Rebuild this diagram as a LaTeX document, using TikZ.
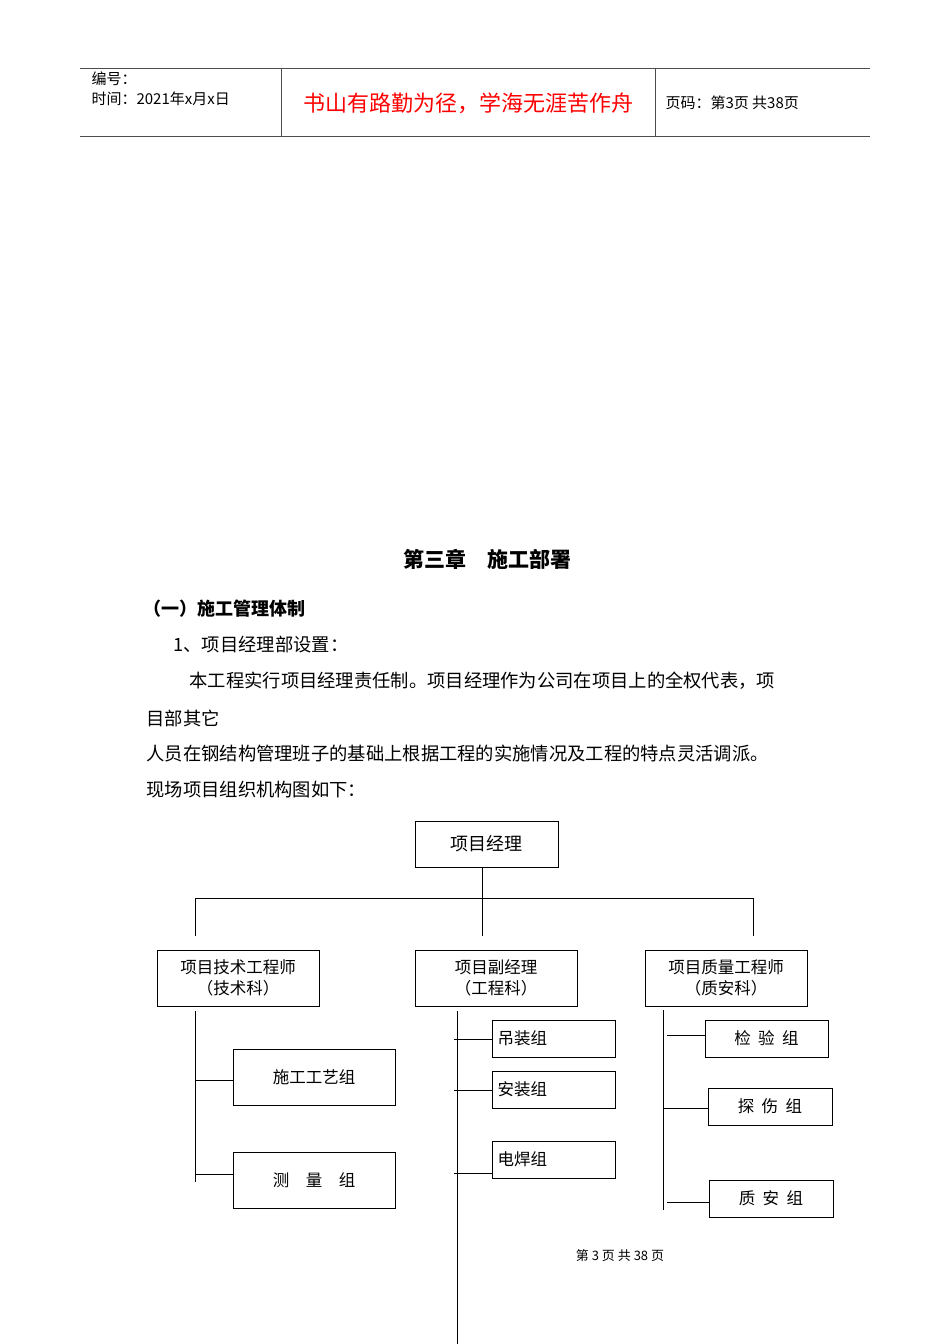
\documentclass[tikz,border=0pt]{standalone}
\usepackage{fontspec}
\setmainfont{Noto Sans CJK SC}
\begin{document}
\begin{tikzpicture}[x=1pt,y=-1pt,
 bx/.style={draw,line width=0.9pt,inner sep=0pt},
 ln/.style={line width=0.9pt},
 body/.style={anchor=west,font=\fontsize{18.3}{18}\selectfont},
 bt/.style={font=\fontsize{16.5}{21}\selectfont,align=center}]
\useasboundingbox[fill=white] (0,0) rectangle (950,1344);
% header
\draw[line width=0.8pt,gray!60!black] (80,68)--(870,68) (80,136)--(870,136) (281,68)--(281,136) (655,68)--(655,136);
\node[anchor=west,font=\fontsize{15}{15}\selectfont] (h1) at (88,79) {编号：};
\node[anchor=west,font=\fontsize{15}{15}\selectfont] (h2) at (88,99) {时间：2021年x月x日};
\node[text=red,font=\fontsize{22}{22}\selectfont] (h3) at (468,103) {书山有路勤为径，学海无涯苦作舟};
\node[anchor=west,font=\fontsize{15}{15}\selectfont] (h4) at (662,103) {页码：第3页\ 共38页};
% text
\node[font=\bfseries\fontsize{21}{21}\selectfont] (t) at (487,559) {第三章\quad 施工部署};
\node[anchor=west,font=\bfseries\fontsize{18}{18}\selectfont] (s) at (140,609) {（一）施工管理体制};
\node[body] (p1) at (170,645) {1、项目经理部设置：};
\node[body] (p2) at (186,681) {本工程实行项目经理责任制。项目经理作为公司在项目上的全权代表，项};
\node[body] (p3) at (143,718) {目部其它};
\node[body] (p4) at (143,754) {人员在钢结构管理班子的基础上根据工程的实施情况及工程的特点灵活调派。};
\node[body] (p5) at (143,790) {现场项目组织机构图如下：};
% chart
\node[bx,minimum width=143,minimum height=46,font=\fontsize{18}{18}\selectfont] (pm) at (486.5,844) {项目经理};
\node[bx,bt,minimum width=162,minimum height=56] (a) at (238,978) {项目技术工程师\\（技术科）};
\node[bx,bt,minimum width=162,minimum height=56] (b) at (496,978) {项目副经理\\（工程科）};
\node[bx,bt,minimum width=162,minimum height=56] (c) at (726,978) {项目质量工程师\\（质安科）};
\draw[ln] (482,867)--(482,936) (195,898)--(753,898) (195,898)--(195,936) (753,898)--(753,936);
\coordinate (a0) at (195,1011); \coordinate (a1) at (195,1182);
\coordinate (b0) at (457,1011); \coordinate (b1) at (457,1344);
\coordinate (c0) at (663,1010); \coordinate (c1) at (663,1210);
\draw[ln] (a0)--(a1) (b0)--(b1) (c0)--(c1);
\node[bx,bt,minimum width=162,minimum height=56] (a1b) at (314,1077) {施工工艺组};
\node[bx,bt,minimum width=162,minimum height=56] (a2b) at (314,1180) {测\quad 量\quad 组};
\draw[ln] (195,1080)--(a1b.west|-0,1080) (195,1174)--(a2b.west|-0,1174);
\node[bx,bt,minimum width=123,minimum height=37,text width=112,align=left] (b1b) at (553.5,1038.5) {吊装组};
\node[bx,bt,minimum width=123,minimum height=37,text width=112,align=left] (b2b) at (553.5,1089.5) {安装组};
\node[bx,bt,minimum width=123,minimum height=37,text width=112,align=left] (b3b) at (553.5,1159.5) {电焊组};
\draw[ln] (454,1039)--(b1b.west|-0,1039) (454,1090)--(b2b.west|-0,1090) (454,1173)--(b3b.west|-0,1173);
\node[bx,bt,minimum width=123,minimum height=37] (c1b) at (766.5,1038.5) {检\ \ 验\ \ 组};
\node[bx,bt,minimum width=124,minimum height=37] (c2b) at (770,1106.5) {探\ \ 伤\ \ 组};
\node[bx,bt,minimum width=124,minimum height=37] (c3b) at (771,1198.5) {质\ \ 安\ \ 组};
\draw[ln] (667,1035)--(c1b.west|-0,1035) (663,1108)--(c2b.west|-0,1108) (667,1202)--(c3b.west|-0,1202);
\node[font=\fontsize{13}{13}\selectfont] (f) at (620,1256) {第\ 3\ 页\ 共\ 38\ 页};
\end{tikzpicture}
\end{document}
